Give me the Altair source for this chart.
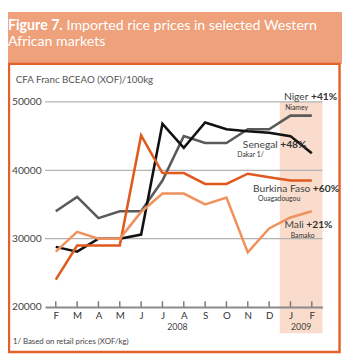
import json
import altair as alt
import pandas as pd

# ---- data ----
months = ["F", "M", "A", "M", "J", "J", "A", "S", "O", "N", "D", "J", "F"]
niger = [34000, 36100, 33000, 34000, 34000, 38500, 45000, 44000, 44000, 46000, 46000, 48000, 48000]
senegal = [28800, 28100, 30000, 30000, 30600, 46800, 43300, 47000, 46000, 45700, 45500, 45000, 42500]
burkina = [24000, 29000, 29000, 29000, 45100, 39600, 39600, 38000, 38000, 39500, 39000, 38500, 38500]
mali = [28100, 31000, 30000, 30000, 33900, 36600, 36600, 35000, 36000, 28000, 31500, 33100, 34000]

series_names = ["Niger", "Senegal", "Burkina Faso", "Mali"]
series_values = [niger, senegal, burkina, mali]
series_colors = ["#5a5a5a", "#111111", "#e05a1e", "#f0925e"]

label_names = ["Niger", "Senegal", "Burkina Faso", "Mali"]
label_pcts = ["+41%", "+48%", "+60%", "+21%"]
label_cities = ["Niamey", "Dakar 1/", "Ouagadougou", "Bamako"]
label_left_i = [10.75, 8.51, 9.48, 11.01]
label_pct_i = [11.96, 10.52, 12.05, 11.74]
label_v = [50700, 43650, 37300, 31950]
city_v = [49150, 42200, 35800, 30400]

years = ["2008", "2009"]
year_i = [5.7, 11.5]
year_v = 17000
y_ticks = [20000, 30000, 40000, 50000]
grid_vals = [30000, 40000, 50000]
highlight = {"i": 10.5, "i2": 12.5, "v": 50000, "v2": 16150}

FONT = "Lato"
W, H = 284, 210

X = alt.Scale(domain=[-0.5, 12.5], nice=False, zero=False)
Y = alt.Scale(domain=[20000, 50000], nice=False, zero=False)

xaxis = alt.Axis(values=list(range(13)),
                 labelExpr=json.dumps(months) + "[datum.value]",
                 ticks=False, grid=False, domainColor="#8a8a8a", domainWidth=2,
                 labelFontSize=10, labelColor="#333333", labelPadding=4,
                 labelFont=FONT, title=None, zindex=1)
yaxis = alt.Axis(values=y_ticks, format="d", grid=False, domain=False, ticks=False,
                 labelPadding=4, labelFontSize=10.5, labelColor="#444444",
                 labelFont=FONT, title=None)

def xe(field="i"):
    return alt.X(f"{field}:Q", scale=X, axis=xaxis)

def ye(field="v"):
    return alt.Y(f"{field}:Q", scale=Y, axis=yaxis)

one = pd.DataFrame({"a": [0]})

# banner + frame (decoration)
banner = alt.Chart(one).mark_rect(color="#eea17b").encode(
    x=alt.value(-38), x2=alt.value(304), y=alt.value(-92), y2=alt.value(-39))
frame = alt.Chart(one).mark_rect(fill=None, stroke="#e4612b", strokeWidth=2.5).encode(
    x=alt.value(-37), x2=alt.value(301.5), y=alt.value(-39), y2=alt.value(256))

t1 = alt.Chart(one).mark_text(text="Figure 7.", font=FONT, fontSize=14.5, fontWeight="bold",
                              color="white", align="left", baseline="alphabetic").encode(
    x=alt.value(-38), y=alt.value(-73.5))
t2 = alt.Chart(one).mark_text(text="Imported rice prices in selected Western", font=FONT,
                              fontSize=14.5, color="white", align="left", baseline="alphabetic").encode(
    x=alt.value(22), y=alt.value(-73.5))
t3 = alt.Chart(one).mark_text(text="African markets", font=FONT, fontSize=14.5, color="white",
                              align="left", baseline="alphabetic").encode(
    x=alt.value(-38), y=alt.value(-57.5))
ytitle = alt.Chart(one).mark_text(text="CFA Franc BCEAO (XOF)/100kg", font=FONT, fontSize=10,
                                  color="#555555", align="left", baseline="middle").encode(
    x=alt.value(-30), y=alt.value(-22))
foot = alt.Chart(one).mark_text(text="1/ Based on retail prices (XOF/kg)", font=FONT, fontSize=8,
                                color="#444444", align="left", baseline="middle").encode(
    x=alt.value(-33), y=alt.value(246))

shade = alt.Chart(pd.DataFrame([highlight])).mark_rect(color="#f9dccb").encode(
    x=xe(), x2="i2:Q", y=ye(), y2="v2:Q")

grid = alt.Chart(pd.DataFrame({"v": grid_vals})).mark_rule(color="#b3b3b3", strokeWidth=1.3).encode(
    x=alt.value(0), x2=alt.value(W), y=ye())

ticks = alt.Chart(pd.DataFrame({"i": list(range(13)), "v": [20000] * 13, "v2": [20850] * 13})).mark_rule(
    color="#7a7a7a", strokeWidth=1.5).encode(x=xe(), y=ye(), y2="v2:Q")

line_layers = []
for name, vals, col in zip(series_names, series_values, series_colors):
    d = pd.DataFrame({"i": list(range(13)), "v": vals})
    line_layers.append(alt.Chart(d).mark_line(color=col, strokeWidth=2.6,
                                              strokeJoin="miter").encode(x=xe(), y=ye()))

lab = pd.DataFrame({"name": label_names, "pct": label_pcts, "city": label_cities,
                    "i": label_left_i, "ip": label_pct_i, "v": label_v, "vc": city_v})
names = alt.Chart(lab).mark_text(font=FONT, fontSize=10.5, color="#444444", align="right",
                                 baseline="middle", dx=-2.5).encode(
    x=alt.X("ip:Q", scale=X, axis=xaxis), y=ye(), text="name:N")
pcts = alt.Chart(lab).mark_text(font=FONT, fontSize=10.5, fontWeight="bold", color="#333333",
                                align="left", baseline="middle").encode(
    x=alt.X("ip:Q", scale=X, axis=xaxis), y=ye(), text="pct:N")
cities = alt.Chart(lab).mark_text(font=FONT, fontSize=7, color="#333333", align="left",
                                  baseline="middle").encode(
    x=xe(), y=alt.Y("vc:Q", scale=Y, axis=yaxis), text="city:N")

yrs = alt.Chart(pd.DataFrame({"i": year_i, "v": [year_v] * 2, "t": years})).mark_text(
    font=FONT, fontSize=9, color="#444444", align="center", baseline="middle").encode(
    x=xe(), y=ye(), text="t:N")

chart = alt.layer(banner, frame, t1, t2, t3, ytitle, foot, shade, grid, ticks,
                  *line_layers, names, pcts, cities, yrs).properties(
    width=W, height=H,
    padding={"left": 38, "top": 92, "right": 20, "bottom": 48},
    autosize=alt.AutoSizeParams(type="none"),
    background="white",
).configure_view(stroke=None)

chart.save("out.html", embed_options={"renderer": "svg", "actions": False})
